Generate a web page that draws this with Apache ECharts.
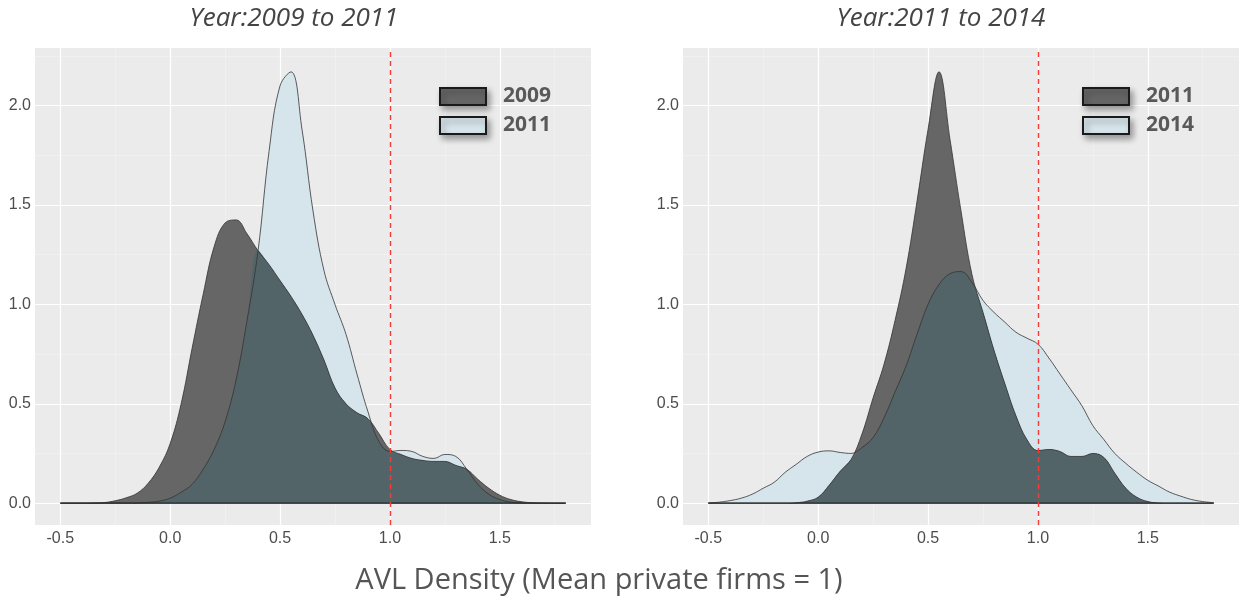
<!DOCTYPE html>
<html>
<head>
<meta charset="utf-8">
<script src="https://cdn.jsdelivr.net/npm/echarts@6/dist/echarts.min.js"></script>
<style>
  html, body { margin: 0; padding: 0; background: #fff; }
  #chart { width: 1240px; height: 603px; }
</style>
</head>
<body>
<div id="chart"></div>
<script>
// density grid (AVL density)
const xs = [-0.5, -0.45, -0.4, -0.35, -0.3, -0.25, -0.2, -0.15, -0.1, -0.05,
  0, 0.05, 0.1, 0.15, 0.2, 0.25, 0.3, 0.35, 0.4, 0.45,
  0.5, 0.55, 0.6, 0.65, 0.7, 0.75, 0.8, 0.85, 0.9, 0.95,
  1, 1.05, 1.1, 1.15, 1.2, 1.25, 1.3, 1.35, 1.4, 1.45,
  1.5, 1.55, 1.6, 1.65, 1.7, 1.75, 1.8];

// left panel: 2009 vs 2011
const dens2009 = [0, 0, 0, 0.001, 0.003, 0.012, 0.027, 0.05, 0.1, 0.18,
  0.3, 0.5, 0.78, 1.05, 1.29, 1.41, 1.425, 1.355, 1.27, 1.2,
  1.12, 1.04, 0.95, 0.845, 0.72, 0.58, 0.5, 0.455, 0.425, 0.35,
  0.27, 0.245, 0.225, 0.215, 0.21, 0.21, 0.19, 0.17, 0.12, 0.075,
  0.04, 0.018, 0.007, 0.002, 0.001, 0, 0];
const dens2011a = [0, 0, 0, 0, 0, 0, 0, 0.001, 0.004, 0.01,
  0.025, 0.055, 0.095, 0.17, 0.27, 0.41, 0.62, 0.92, 1.27, 1.77,
  2.1, 2.17, 1.88, 1.47, 1.17, 1.0, 0.85, 0.65, 0.46, 0.31,
  0.26, 0.265, 0.26, 0.235, 0.225, 0.245, 0.235, 0.17, 0.095, 0.045,
  0.018, 0.005, 0.001, 0, 0, 0, 0];

// right panel: 2011 vs 2014
const dens2011b = [0, 0, 0, 0, 0, 0, 0, 0, 0.002, 0.01,
  0.03, 0.09, 0.16, 0.22, 0.35, 0.53, 0.7, 0.92, 1.18, 1.52,
  1.88, 2.17, 1.83, 1.47, 1.15, 0.96, 0.77, 0.6, 0.44, 0.32,
  0.265, 0.27, 0.26, 0.235, 0.235, 0.25, 0.23, 0.15, 0.075, 0.03,
  0.008, 0.001, 0, 0, 0, 0, 0];
const dens2014 = [0.001, 0.005, 0.013, 0.025, 0.045, 0.075, 0.105, 0.155, 0.195, 0.235,
  0.257, 0.263, 0.255, 0.25, 0.28, 0.33, 0.43, 0.56, 0.69, 0.85,
  1.0, 1.1, 1.155, 1.165, 1.11, 1.02, 0.96, 0.91, 0.86, 0.83,
  0.8, 0.73, 0.65, 0.57, 0.49, 0.39, 0.32, 0.25, 0.2, 0.155,
  0.115, 0.085, 0.055, 0.035, 0.018, 0.008, 0.002];

const xTicks = [-0.5, 0, 0.5, 1, 1.5];
const xMinor = [-0.25, 0.25, 0.75, 1.25, 1.75];
const yTicks = [0, 0.5, 1, 1.5, 2];
const yMinor = [0.25, 0.75, 1.25, 1.75, 2.25];
const refLine = 1.0;

const DARK = '#666666';
const LIGHT = '#D6E5EB';
const BOTH = '#536468';
const EDGE = '#333333';

const pair = (arr) => xs.map((x, i) => [x, arr[i]]);
const lower = (a, b) => xs.map((x, i) => [x, Math.min(a[i], b[i])]);

function gridMarks() {
  const data = [];
  const minor = { color: '#F4F4F4', width: 0.6, type: 'solid' };
  const major = { color: '#FFFFFF', width: 1.2, type: 'solid' };
  xMinor.forEach(v => data.push({ xAxis: v, lineStyle: minor }));
  yMinor.forEach(v => data.push({ yAxis: v, lineStyle: minor }));
  xTicks.forEach(v => data.push({ xAxis: v, lineStyle: major }));
  yTicks.forEach(v => data.push({ yAxis: v, lineStyle: major }));
  return data;
}

function panelSeries(idx, darkName, darkVals, lightName, lightVals) {
  const base = { type: 'line', xAxisIndex: idx, yAxisIndex: idx, symbol: 'none',
    smooth: 0.4, silent: true, animation: false };
  return [
    Object.assign({}, base, {
      name: 'grid' + idx, z: 1,
      data: [[xs[0], 0], [xs[xs.length - 1], 0]],
      lineStyle: { opacity: 0 },
      markLine: { z: 1, silent: true, symbol: 'none', label: { show: false },
        animation: false, lineStyle: { type: 'solid' }, data: gridMarks() }
    }),
    Object.assign({}, base, {
      name: lightName, z: 2, data: pair(lightVals),
      itemStyle: { color: LIGHT }, lineStyle: { width: 0 },
      areaStyle: { color: LIGHT, opacity: 1 }
    }),
    Object.assign({}, base, {
      name: darkName, z: 3, data: pair(darkVals),
      itemStyle: { color: DARK }, lineStyle: { width: 0 },
      areaStyle: { color: DARK, opacity: 1 }
    }),
    Object.assign({}, base, {
      name: 'both' + idx, z: 4, data: lower(darkVals, lightVals),
      lineStyle: { width: 0 },
      areaStyle: { color: BOTH, opacity: 1 }
    }),
    Object.assign({}, base, {
      name: 'edgeL' + idx, z: 5, data: pair(lightVals),
      lineStyle: { color: EDGE, width: 0.8 }
    }),
    Object.assign({}, base, {
      name: 'edgeD' + idx, z: 5, data: pair(darkVals),
      lineStyle: { color: EDGE, width: 0.8 }
    }),
    Object.assign({}, base, {
      name: 'base' + idx, z: 6, smooth: false,
      data: [[xs[0], 0], [xs[xs.length - 1], 0]],
      lineStyle: { color: '#222222', width: 1.2 },
      markLine: { z: 10, silent: true, symbol: 'none', label: { show: false },
        animation: false,
        data: [{ xAxis: refLine }],
        lineStyle: { color: '#F23B3B', width: 1.4, type: [5, 4] } }
    })
  ];
}

function xAxisOf(idx) {
  return {
    type: 'value', gridIndex: idx, min: -0.615, max: 1.915,
    axisLine: { show: false }, splitLine: { show: false },
    axisTick: { show: true, customValues: xTicks, length: 4, lineStyle: { color: '#333', width: 1 } },
    axisLabel: { customValues: xTicks, formatter: v => v.toFixed(1), color: '#4D4D4D',
      fontSize: 16, fontFamily: 'Liberation Sans', margin: 6 }
  };
}
function yAxisOf(idx) {
  return {
    type: 'value', gridIndex: idx, min: -0.11, max: 2.29,
    axisLine: { show: false }, splitLine: { show: false },
    axisTick: { show: true, customValues: yTicks, length: 3, lineStyle: { color: '#333', width: 1 } },
    axisLabel: { customValues: yTicks, formatter: v => v.toFixed(1), color: '#4D4D4D',
      fontSize: 16, fontFamily: 'Liberation Sans', margin: 4 }
  };
}

function legendOf(left, names, colors) {
  return {
    left: left, top: 86, orient: 'vertical', padding: 0, itemGap: 8,
    itemWidth: 46, itemHeight: 17, icon: 'rect', selectedMode: false,
    textStyle: { fontFamily: 'Open Sans', fontWeight: 'bold', fontSize: 21,
      color: '#595959', lineHeight: 17, padding: [0, 0, 0, 12] },
    data: names.map((n, i) => ({
      name: n,
      itemStyle: { color: colors[i], borderColor: '#1a1a1a', borderWidth: 2,
        shadowBlur: 6, shadowColor: 'rgba(0,0,0,0.35)', shadowOffsetX: 3, shadowOffsetY: 4 }
    }))
  };
}

const chart = echarts.init(document.getElementById('chart'));
chart.setOption({
  animation: false,
  backgroundColor: '#fff',
  title: [
    { text: 'Year:2009 to 2011', left: 294, top: 6, textAlign: 'center', padding: 0,
      textStyle: { fontFamily: 'Open Sans', fontStyle: 'italic', fontWeight: 'normal',
        fontSize: 26, color: '#444' } },
    { text: 'Year:2011 to 2014', left: 941, top: 6, textAlign: 'center', padding: 0,
      textStyle: { fontFamily: 'Open Sans', fontStyle: 'italic', fontWeight: 'normal',
        fontSize: 26, color: '#444' } },
    { text: 'AVL Density (Mean private firms = 1)', left: 599, top: 566, textAlign: 'center', padding: 0,
      textStyle: { fontFamily: 'Open Sans', fontWeight: 'normal', fontSize: 29, color: '#555' } }
  ],
  legend: [
    legendOf(439, ['2009', '2011'], [DARK, LIGHT]),
    legendOf(1082, ['2011', '2014'], [DARK, LIGHT])
  ],
  grid: [
    { left: 35, top: 48, width: 556, height: 477, show: true, backgroundColor: '#EBEBEB', borderWidth: 0 },
    { left: 683, top: 48, width: 556, height: 477, show: true, backgroundColor: '#EBEBEB', borderWidth: 0 }
  ],
  xAxis: [xAxisOf(0), xAxisOf(1)],
  yAxis: [yAxisOf(0), yAxisOf(1)],
  series: [
    ...panelSeries(0, '2009', dens2009, '2011', dens2011a),
    ...panelSeries(1, '2011', dens2011b, '2014', dens2014)
  ]
});
</script>
</body>
</html>
